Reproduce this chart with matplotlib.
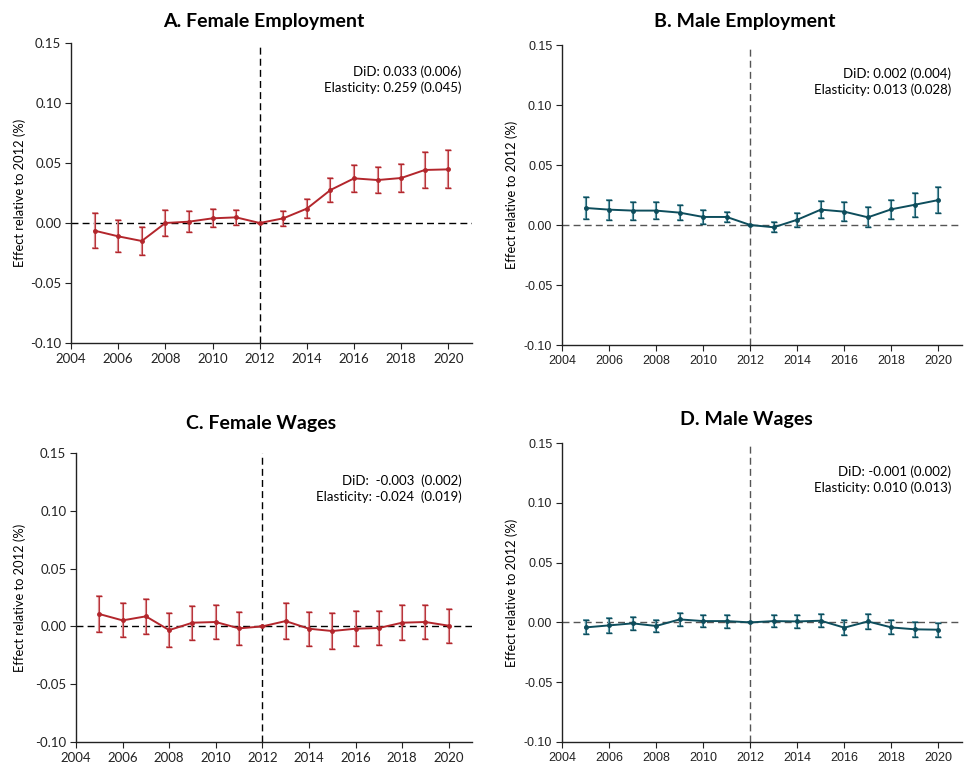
import matplotlib
matplotlib.use("Agg")
import matplotlib.pyplot as plt
import numpy as np

years = list(range(2005, 2021))

fem_emp = [-0.0064, -0.0111, -0.0150, 0.0000, 0.0011, 0.0039, 0.0047, 0.0000,
           0.0039, 0.0120, 0.0275, 0.0372, 0.0358, 0.0375, 0.0442, 0.0447]
fem_emp_err = [0.0145, 0.0133, 0.0118, 0.0107, 0.0090, 0.0074, 0.0063, 0.0,
               0.0060, 0.0076, 0.0100, 0.0110, 0.0110, 0.0120, 0.0153, 0.0158]

male_emp = [0.0142, 0.0128, 0.0120, 0.0120, 0.0103, 0.0067, 0.0067, 0.0000,
            -0.0019, 0.0044, 0.0128, 0.0111, 0.0064, 0.0131, 0.0169, 0.0208]
male_emp_err = [0.0089, 0.0083, 0.0075, 0.0070, 0.0063, 0.0056, 0.0042, 0.0,
                0.0042, 0.0058, 0.0068, 0.0080, 0.0083, 0.0080, 0.0100, 0.0110]

fem_wage = [0.0107, 0.0052, 0.0087, -0.0032, 0.0032, 0.0038, -0.0017, 0.0000,
            0.0046, -0.0020, -0.0040, -0.0020, -0.0014, 0.0032, 0.0038, 0.0006]
fem_wage_err = [0.0153, 0.0148, 0.0150, 0.0148, 0.0148, 0.0146, 0.0143, 0.0,
                0.0155, 0.0147, 0.0157, 0.0152, 0.0148, 0.0149, 0.0146, 0.0147]

male_wage = [-0.0042, -0.0025, -0.0008, -0.0030, 0.0025, 0.0011, 0.0011, 0.0000,
             0.0011, 0.0008, 0.0014, -0.0044, 0.0008, -0.0042, -0.0058, -0.0061]
male_wage_err = [0.0058, 0.0060, 0.0054, 0.0054, 0.0052, 0.0051, 0.0054, 0.0,
                 0.0049, 0.0054, 0.0056, 0.0063, 0.0063, 0.0058, 0.0060, 0.0060]

titles = ["A. Female Employment", "B. Male Employment", "C. Female Wages", "D. Male Wages"]
notes = [("DiD: 0.033 (0.006)", "Elasticity: 0.259 (0.045)"),
         ("DiD: 0.002 (0.004)", "Elasticity: 0.013 (0.028)"),
         ("DiD:  -0.003  (0.002)", "Elasticity: -0.024  (0.019)"),
         ("DiD: -0.001 (0.002)", "Elasticity: 0.010 (0.013)")]
x_ticks = list(range(2004, 2021, 2))
y_ticks = [-0.10, -0.05, 0.00, 0.05, 0.10, 0.15]
ylabel = "Effect relative to 2012 (%)"

W, H = 964, 765
fig = plt.figure(figsize=(W / 100, H / 100), dpi=100)

def frac(l, t, r, b):
    return [l / W, 1 - b / H, (r - l) / W, (b - t) / H]

red = "#b3262c"
red_light = "#d98a8e"
teal = "#0d4d5c"
teal_light = "#5f9aa8"

panels = [
    dict(rect=frac(71, 43, 472, 343), y=fem_emp, e=fem_emp_err, c=red, cl=red_light,
         ref="#000000", font="Lato", fs=9.5, title_xy=(264, 22), ylab_x=20),
    dict(rect=frac(562, 45, 962, 345), y=male_emp, e=male_emp_err, c=teal, cl=teal_light,
         ref="#555555", font="Liberation Sans", fs=9, title_xy=(745, 21), ylab_x=512),
    dict(rect=frac(76, 453, 472, 742), y=fem_wage, e=fem_wage_err, c=red, cl=red_light,
         ref="#000000", font="Lato", fs=9.5, title_xy=(261, 423), ylab_x=20),
    dict(rect=frac(562, 443, 962, 742), y=male_wage, e=male_wage_err, c=teal, cl=teal_light,
         ref="#555555", font="Liberation Sans", fs=9, title_xy=(746, 419), ylab_x=512),
]

for i, p in enumerate(panels):
    ax = fig.add_axes(p["rect"])
    ax.axhline(0, color=p["ref"], ls=(0, (5, 3)), lw=1.0, zorder=1)
    ax.axvline(2012, color=p["ref"], ls=(0, (5, 3)), lw=1.0, zorder=1)
    ax.errorbar(years, p["y"], yerr=p["e"], color=p["c"], ecolor=p["cl"],
                elinewidth=1.6, capsize=2, capthick=1.2, lw=1.4,
                marker="o", ms=2.5, zorder=3)
    # darker caps on top
    ax.errorbar(years, p["y"], yerr=p["e"], fmt="none", ecolor=p["c"],
                elinewidth=0.6, capsize=2, capthick=1.0, zorder=4)
    ax.set_xlim(2004, 2021)
    ax.set_ylim(-0.10, 0.15)
    ax.set_xticks(x_ticks)
    ax.set_yticks(y_ticks)
    ax.set_yticklabels([f"{v:.2f}" for v in y_ticks])
    for s in ["top", "right"]:
        ax.spines[s].set_visible(False)
    for s in ["left", "bottom"]:
        ax.spines[s].set_linewidth(1.0)
        ax.spines[s].set_color("#222222")
    ax.tick_params(axis="both", direction="out", length=4, width=0.8,
                   labelsize=p["fs"], colors="#222222", pad=3)
    for lab in ax.get_xticklabels() + ax.get_yticklabels():
        lab.set_family(p["font"])
    ax.text(0.973, 0.905, notes[i][0], transform=ax.transAxes, ha="right",
            va="center", fontsize=9.5, family="Lato")
    ax.text(0.973, 0.85, notes[i][1], transform=ax.transAxes, ha="right",
            va="center", fontsize=9.5, family="Lato")
    fig.text(p["title_xy"][0] / W, 1 - p["title_xy"][1] / H, titles[i],
             ha="center", va="center", fontsize=14, fontweight="bold", family="Lato")
    pos = ax.get_position()
    fig.text(p["ylab_x"] / W, pos.y0 + pos.height * 0.5, ylabel, rotation=90,
             ha="center", va="center", fontsize=9.3, family="Lato")

fig.savefig("out.png", dpi=100)
